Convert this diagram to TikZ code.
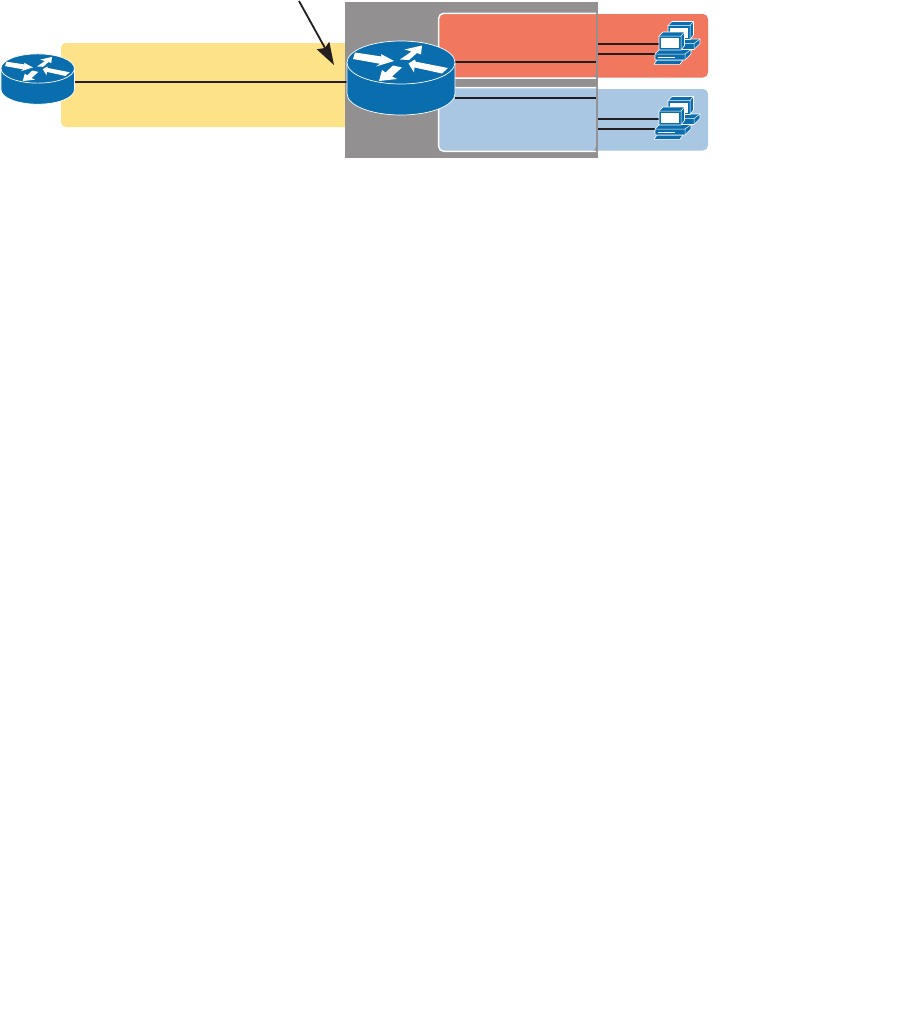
\documentclass[tikz,border=0pt]{standalone}
\usetikzlibrary{arrows.meta}
\definecolor{routerblue}{HTML}{0A6DAD}
\definecolor{boxgray}{HTML}{939091}
\definecolor{lanred}{HTML}{F2775F}
\definecolor{lanblue}{HTML}{A9C7E3}
\definecolor{wanyellow}{HTML}{FDE288}
\definecolor{linkblack}{HTML}{231F20}
\tikzset{
  link/.style={draw=linkblack,line width=1.8pt},
  routerbody/.style={fill=routerblue,draw=white,line width=0.7pt},
  routerarrow/.style={fill=white,draw=none},
  pcpart/.style={fill=routerblue,draw=white,line width=0.6pt,line join=round},
  pcscreen/.style={fill=white,draw=none},
  lanborder/.style={draw=white,line width=1.5pt},
}
\newcommand{\routericon}[3]{%
  \begin{scope}[shift={(#1,#2)},scale=#3]
    \path[routerbody] (-54,0) -- (-54,31)
      .. controls (-54,43) and (-30,52.5) .. (0,52.5)
      .. controls (30,52.5) and (54,43) .. (54,31) -- (54,0)
      .. controls (54,-12) and (30,-21.5) .. (0,-21.5)
      .. controls (-30,-21.5) and (-54,-12) .. (-54,0) -- cycle;
    \path[routerbody] (-54,0)
      .. controls (-54,12) and (-30,21.5) .. (0,21.5)
      .. controls (30,21.5) and (54,12) .. (54,0);
    \fill[routerarrow] (-46,-10) -- (-48,-3.5) -- (-21,1.3) -- (-25,4) -- (-7,-1.5) -- (-20,-8.5) -- (-19.5,-6) -- cycle;
    \fill[routerarrow] (21,-17) -- (3.5,-13) -- (10.5,-11) -- (-1,-3) -- (8,-2.5) -- (16,-9.5) -- (20,-8) -- cycle;
    \fill[routerarrow] (7.5,1) -- (14,-3) -- (14.7,-0.8) -- (47,5.5) -- (41,11) -- (13.5,5) -- (13,10) -- cycle;
    \fill[routerarrow] (-22,18.5) -- (-19,7.5) -- (-15.5,10) -- (-8,3) -- (1,5) -- (-9,14) -- (-4,16.5) -- cycle;
  \end{scope}}
\newcommand{\pcunit}{%
  % keyboard
  \path[pcpart] (9,49.3) -- (12,45) -- (38,45) -- (35,49.3) -- cycle;
  % base
  \path[pcpart] (10,39) -- (14.5,34.5) -- (46,34.5) -- (46,39) -- (40,45) -- (10,45) -- cycle;
  \draw[white,line width=0.5pt] (10,39) -- (40,39) -- (46,34.5) (40,39) -- (40,45);
  \draw[white,line width=0.5pt] (13,42) -- (30,42);
  % monitor
  \path[pcpart] (14,21) -- (18,17) -- (39.5,17) -- (39.5,30.5) -- (36,35) -- (14,35) -- cycle;
  \draw[white,line width=0.5pt] (14,21) -- (36,21) -- (39.5,17) (36,21) -- (36,35);
  \fill[pcscreen] (16,23) rectangle (34,33);
}
\newcommand{\pcicon}[2]{%
  \begin{scope}[shift={(#1+9,#2-10.5)}]\pcunit\end{scope}
  \begin{scope}[shift={(#1,#2)}]\pcunit\end{scope}}
\begin{document}
\begin{tikzpicture}[x=1pt,y=-1pt]
\useasboundingbox (0,0) rectangle (915,1036);
\fill[white] (0,0) rectangle (915,1036);
% coordinates of connector ends
\coordinate (r1east) at (75,82);
\coordinate (r2west) at (347,82);
\coordinate (r2redport) at (455,62);
\coordinate (r2blueport) at (455,98);
\coordinate (redend) at (596,62);
\coordinate (blueend) at (596,98);
\coordinate (edgeredA) at (598,44);
\coordinate (edgeredB) at (598,54);
\coordinate (edgeblueA) at (598,119);
\coordinate (edgeblueB) at (598,129);
\coordinate (pcredA) at (660,44);
\coordinate (pcredB) at (655,54);
\coordinate (pcblueA) at (660,119);
\coordinate (pcblueB) at (655,129);
\coordinate (calloutstart) at (299,1);
\coordinate (callouttip) at (334,65);
% regions
\fill[wanyellow,rounded corners=5pt] (350,43) -- (61,43) -- (61,127) -- (350,127) -- cycle;
\fill[lanred,rounded corners=5pt] (590,14) -- (708,14) -- (708,77.5) -- (590,77.5) -- cycle;
\fill[lanblue,rounded corners=5pt] (590,89) -- (708,89) -- (708,150.5) -- (590,150.5) -- cycle;
\fill[boxgray] (345,2) rectangle (598,158);
\fill[lanred,rounded corners=5pt] (596,13.3) -- (438.7,13.3) -- (438.7,78) -- (596,78) [sharp corners] -- cycle;
\fill[lanblue,rounded corners=5pt] (596,87.5) -- (438.7,87.5) -- (438.7,151.3) -- (596,151.3) [sharp corners] -- cycle;
\draw[lanborder,rounded corners=5pt] (596,13.3) -- (438.7,13.3) -- (438.7,78) -- (596,78);
\draw[lanborder,rounded corners=5pt] (596,87.5) -- (438.7,87.5) -- (438.7,151.3) -- (596,151.3);
% connectors
\draw[link] (r1east) -- (r2west);
\draw[link] (r2redport) -- (redend);
\draw[link] (r2blueport) -- (blueend);
\draw[link] (edgeredA) -- (pcredA);
\draw[link] (edgeredB) -- (pcredB);
\draw[link] (edgeblueA) -- (pcblueA);
\draw[link] (edgeblueB) -- (pcblueB);
% devices
\routericon{37.7}{68.5}{0.68}
\routericon{401}{62.5}{1}
\pcicon{645}{15}
\pcicon{645}{90}
% callout arrow
\draw[linkblack,line width=1.8pt] (calloutstart) -- (325,48);
\fill[linkblack] (callouttip) -- (329.3,41.7) -- (325,48) -- (316.7,49.3) -- cycle;
\end{tikzpicture}
\end{document}
